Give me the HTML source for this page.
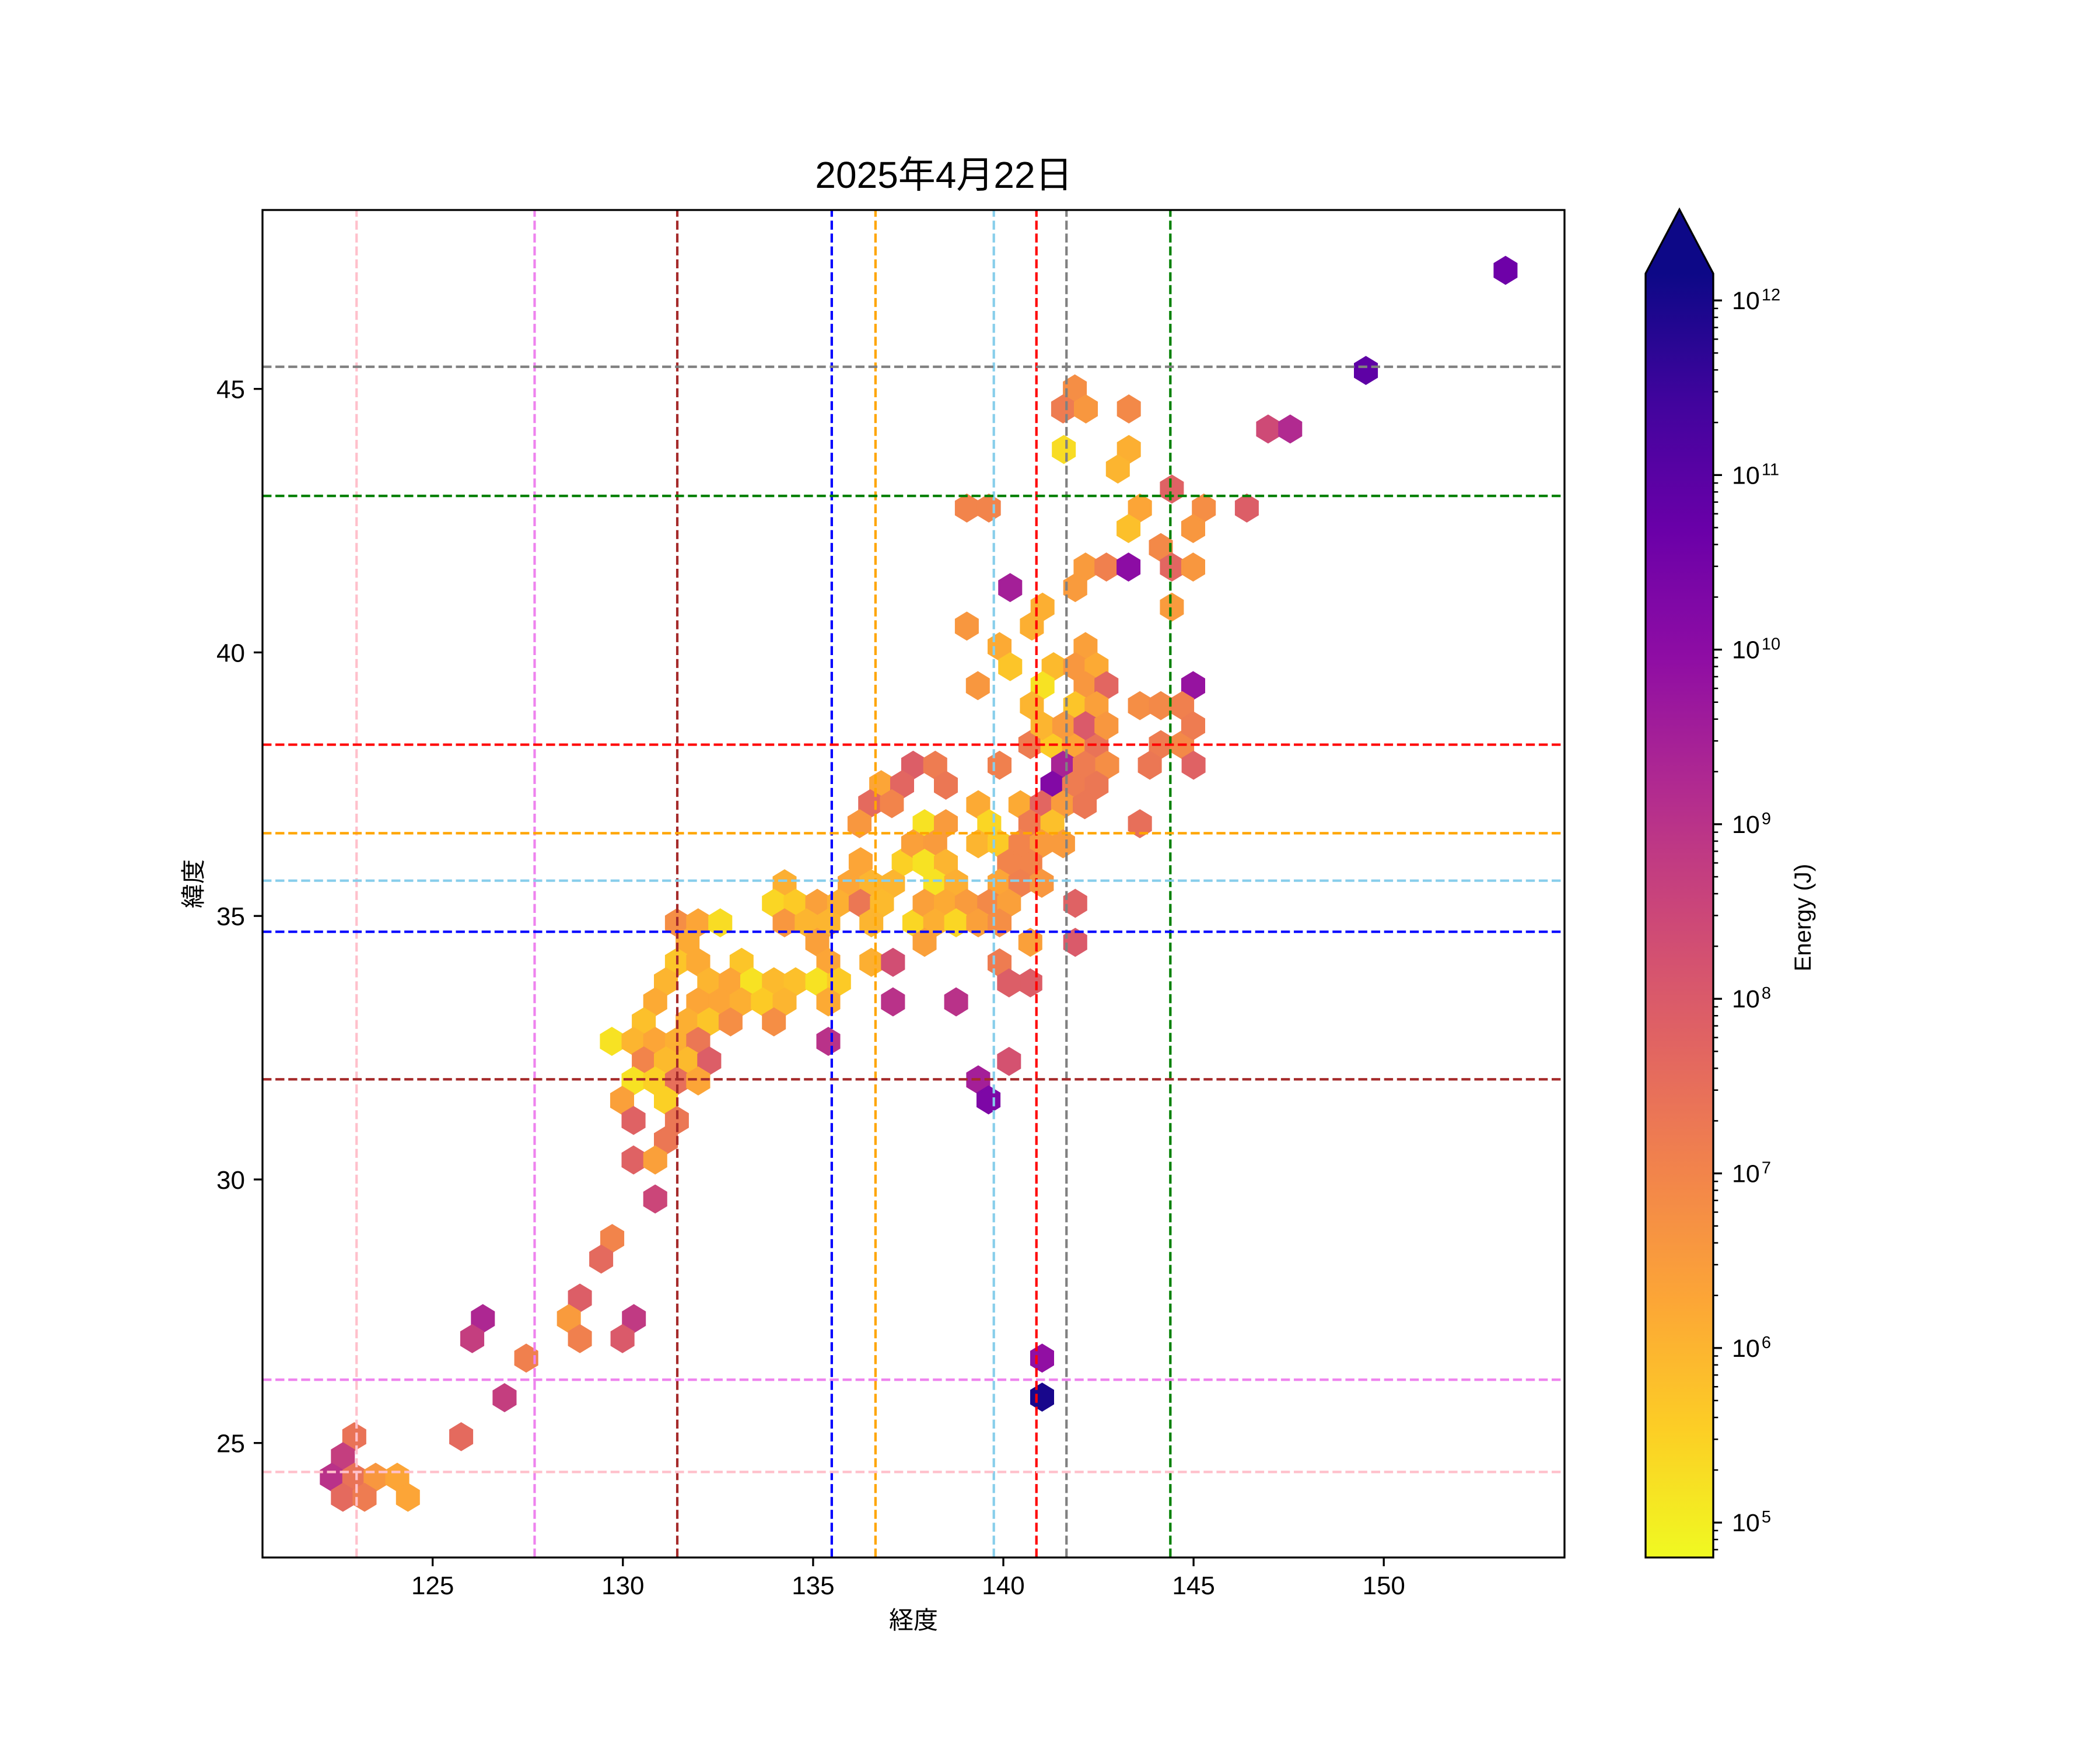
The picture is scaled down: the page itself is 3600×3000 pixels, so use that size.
<!DOCTYPE html>
<html><head><meta charset="utf-8"><style>
html,body{margin:0;padding:0;background:#fff;}
svg{display:block;}
text{font-family:"Liberation Sans","Noto Sans CJK JP",sans-serif;fill:#000;}
</style></head><body>
<svg id="fig" xmlns="http://www.w3.org/2000/svg" width="3600" height="3000" viewBox="0 0 3600 3000">
<rect x="0" y="0" width="3600" height="3000" fill="#fff"/>
<defs>
<clipPath id="axclip"><rect x="450" y="360" width="2232" height="2310"/></clipPath>
<linearGradient id="cbgrad" x1="0" y1="1" x2="0" y2="0"></linearGradient>
</defs>
<text x="1618" y="322" font-size="64" text-anchor="middle">2025年4月22日</text>
<g id="hexes" clip-path="url(#axclip)"></g>
<g id="reflines" clip-path="url(#axclip)"></g>
<rect x="450" y="360" width="2232" height="2310" fill="none" stroke="#000" stroke-width="3.3"/>
<g id="xticks"></g>
<g id="yticks"></g>
<text x="1566" y="2792" font-size="42" text-anchor="middle">経度</text>
<text transform="translate(346,1515) rotate(-90)" font-size="42" text-anchor="middle">緯度</text>
<g id="colorbar"></g>
<text transform="translate(3104,1573) rotate(-90)" font-size="40" text-anchor="middle">Energy (J)</text>
</svg>
<script>
// ---- data (hex-bin centres: longitude, latitude, log10 energy) ----
const lon = [
136.25,137.38,
134.25,135.96,136.53,137.10,
133.97,134.54,135.11,135.68,136.25,136.81,
131.42,131.98,132.56,134.25,134.83,135.40,136.53,137.66,
131.70,135.11,
131.42,131.98,133.12,135.40,136.53,137.10,
131.13,132.27,132.83,133.40,133.97,134.54,135.11,135.68,
130.85,131.98,132.56,133.12,133.68,134.25,135.40,137.10,
130.55,131.70,132.27,132.83,133.97,
129.71,130.28,130.85,131.42,131.98,135.40,
130.55,131.13,131.70,132.27,
130.28,130.85,131.42,131.98,
129.98,131.13,
130.28,131.42,
131.13,
130.28,130.85,
130.85,
140.71,141.29,141.86,142.45,144.14,144.70,
137.63,138.21,139.90,141.57,142.14,142.73,143.85,145.00,
138.49,141.29,141.86,142.45,
139.34,140.45,141.01,141.57,142.14,
137.93,138.49,139.63,140.71,141.29,143.59,
137.63,138.21,139.34,139.90,140.45,141.01,141.57,
137.93,138.49,140.15,140.71,
138.21,138.76,139.90,140.45,141.01,
137.93,138.49,139.04,139.63,140.15,141.89,
138.21,138.76,139.34,139.90,
137.93,140.71,141.89,
139.90,
140.15,140.71,
138.76,
140.15,
139.34,
139.61,
139.04,139.62,
142.16,142.71,
140.18,141.89,
141.03,
139.04,140.75,
139.90,142.16,
140.18,141.32,141.89,142.45,
139.33,141.03,142.16,142.71,
140.75,141.89,142.45,
141.03,141.60,142.16,142.71,
136.79,137.34,
136.50,137.07,
136.22,
144.43,
143.59,145.27,146.40,
143.29,144.99,
144.14,
143.29,144.43,144.99,
144.43,
144.99,
143.59,144.14,144.70,
144.99,
141.88,141.57,142.17,143.30,146.96,147.54,149.53,141.59,143.30,143.01,153.20,
129.72,129.43,128.87,128.58,128.87,130.29,129.99,126.32,126.04,127.46,126.89,125.75,
122.94,122.64,122.35,122.94,123.50,124.07,122.64,123.21,124.35,
141.02,141.02
];
const lat = [
36.03,36.03,
35.61,35.61,35.61,35.61,
35.24,35.24,35.24,35.24,35.24,35.24,
34.87,34.87,34.87,34.87,34.87,34.87,34.87,34.87,
34.50,34.50,
34.12,34.12,34.12,34.12,34.12,34.12,
33.75,33.75,33.75,33.75,33.75,33.75,33.75,33.75,
33.37,33.37,33.37,33.37,33.37,33.37,33.37,33.37,
32.99,32.99,32.99,32.99,32.99,
32.62,32.62,32.62,32.62,32.62,32.62,
32.25,32.25,32.25,32.25,
31.87,31.87,31.87,31.87,
31.50,31.50,
31.12,31.12,
30.74,
30.37,30.37,
29.63,
38.25,38.25,38.25,38.25,38.25,38.25,
37.86,37.86,37.86,37.86,37.86,37.86,37.86,37.86,
37.48,37.48,37.48,37.48,
37.11,37.11,37.11,37.11,37.11,
36.75,36.75,36.75,36.75,36.75,36.75,
36.37,36.37,36.37,36.37,36.37,36.37,36.37,
36.00,36.00,36.00,36.00,
35.62,35.62,35.62,35.62,35.62,
35.24,35.24,35.24,35.24,35.24,35.24,
34.87,34.87,34.87,34.87,
34.50,34.50,34.50,
34.11,
33.73,33.73,
33.37,
32.24,
31.89,
31.51,
42.74,42.74,
41.62,41.62,
41.23,41.23,
40.86,
40.50,40.50,
40.11,40.11,
39.73,39.73,39.73,39.73,
39.37,39.37,39.37,39.37,
38.99,38.99,38.99,
38.61,38.61,38.61,38.61,
37.49,37.49,
37.13,37.13,
36.75,
43.10,
42.74,42.74,42.74,
42.35,42.35,
41.99,
41.62,41.62,41.62,
40.86,
39.37,
38.99,38.99,38.99,
38.61,
45.00,44.62,44.62,44.62,44.24,44.24,45.35,43.85,43.85,43.48,47.25,
28.88,28.49,27.75,27.36,26.98,27.36,26.98,27.36,26.98,26.61,25.86,25.12,
25.12,24.74,24.35,24.35,24.35,24.35,23.97,23.97,23.97,
26.61,25.87
];
const logE = [
6.3,5.5,
6.1,6.3,6.0,6.0,
5.4,5.6,6.4,6.1,7.3,5.9,
6.8,6.3,5.3,6.6,6.0,6.0,6.0,5.4,
6.2,6.4,
5.7,6.2,5.7,6.3,6.1,8.3,
6.0,6.0,6.3,5.2,5.9,5.8,5.2,5.6,
6.2,6.3,6.3,6.1,5.6,6.0,6.2,9.0,
5.8,6.1,5.7,6.8,6.8,
5.2,6.0,6.3,6.1,7.3,9.0,
7.0,5.9,5.9,7.9,
5.2,5.5,7.5,6.3,
6.4,5.5,
7.8,7.3,
7.3,
7.8,6.4,
8.5,
7.2,5.6,6.3,7.4,7.2,6.9,
7.9,7.2,7.1,9.4,7.2,6.8,7.3,7.8,
7.3,10.2,7.2,7.3,
6.2,6.2,7.7,6.5,7.3,
5.2,6.5,5.4,7.2,5.8,7.5,
6.4,6.5,6.0,5.6,7.0,6.5,6.5,
5.2,6.0,7.0,7.0,
5.2,6.1,6.3,7.1,6.6,
6.4,6.2,6.5,6.9,6.4,7.8,
6.1,5.4,6.4,6.8,
6.4,6.4,8.0,
7.2,
7.9,7.9,
9.0,
8.2,
9.5,
10.3,
7.0,7.0,
6.5,7.1,
9.5,6.5,
6.1,
6.6,6.1,
6.2,6.4,
5.7,5.9,6.6,6.2,
6.6,5.2,6.6,7.7,
6.0,5.7,6.4,
6.0,6.5,8.0,6.6,
6.3,7.7,
7.6,7.0,
6.6,
7.8,
6.3,6.8,7.9,
5.8,6.6,
6.9,
10.0,7.7,6.6,
6.5,
9.8,
6.8,6.9,7.1,
7.2,
6.8,7.2,6.6,6.9,8.4,9.2,10.9,5.3,6.1,6.0,10.6,
7.0,7.6,7.9,6.5,7.1,8.8,8.0,9.3,8.7,7.1,8.7,7.6,
7.4,8.7,9.0,7.4,6.6,6.3,7.6,7.2,6.3,
9.9,12.0
];
// reference lines
const vLineLon = [123.0, 127.68, 131.43, 135.49, 136.64, 139.75, 140.87, 141.66, 144.39];
const vLineColor = ["pink","violet","brown","blue","orange","skyblue","red","grey","green"];
const hLineLat = [24.45, 26.2, 31.90, 34.70, 36.57, 35.67, 38.25, 45.42, 42.97];
const hLineColor = ["pink","violet","brown","blue","orange","skyblue","red","grey","green"];
// ticks
const xTickVals = [125,130,135,140,145,150];
const yTickVals = [25,30,35,40,45];
const cbTickExp = [5,6,7,8,9,10,11,12];

// ---- axes ----
const X0 = 741.7, XPD = 65.22, Y0 = 666.7, YPD = 90.35;
function xs(v){ return X0 + (v - 125) * XPD; }
function ys(v){ return Y0 + (45 - v) * YPD; }
const VMIN = 4.80, VMAX = 12.154;
const CB_BOTTOM = 2670, CB_DEC = 299.3;
function cbY(lg){ return CB_BOTTOM - (lg - VMIN) * CB_DEC; }

const plasma = [[13,8,135],[65,4,157],[106,0,168],[143,13,164],[177,42,144],[204,71,120],[225,100,98],[242,132,75],[252,166,54],[252,206,37],[240,249,33]];
function plasmaAt(t){
  t = Math.max(0, Math.min(1, t));
  const f = t * 10, i = Math.min(9, Math.floor(f)), r = f - i;
  const a = plasma[i], b = plasma[i+1];
  return 'rgb(' + [0,1,2].map(k => Math.round(a[k] + (b[k]-a[k]) * r)).join(',') + ')';
}
function colorFor(lg){ return plasmaAt(1 - (lg - VMIN) / (VMAX - VMIN)); }

const NS = 'http://www.w3.org/2000/svg';
function mk(tag, attrs, parent){
  const e = document.createElementNS(NS, tag);
  for (const k in attrs) e.setAttribute(k, attrs[k]);
  parent.appendChild(e);
  return e;
}

// ---- hexes ----
const hexG = document.getElementById('hexes');
const HW = 0.568 * XPD / 2, HH = 0.75 * YPD / 3;
for (let i = 0; i < lon.length; i++) {
  const cx = xs(lon[i]), cy = ys(lat[i]);
  const pts = [[0,-HH],[HW,-HH/2],[HW,HH/2],[0,HH],[-HW,HH/2],[-HW,-HH/2]].map(p => (cx+p[0]).toFixed(1)+','+(cy+p[1]).toFixed(1)).join(' ');
  const c = colorFor(logE[i]);
  const h = mk('polygon', {points: pts, fill: c, stroke: c, 'stroke-width': 4}, hexG);
  
  
}

// ---- reference lines ----
const refG = document.getElementById('reflines');
for (let i = 0; i < vLineLon.length; i++) {
  const x = xs(vLineLon[i]);
  const l = mk('line', {x1: x, y1: 2670, x2: x, y2: 360, stroke: vLineColor[i], 'stroke-width': 4.2, 'stroke-dasharray': '15.4 6.7'}, refG);
  
  
}
for (let i = 0; i < hLineLat.length; i++) {
  const y = ys(hLineLat[i]);
  const l = mk('line', {x1: 450, y1: y, x2: 2682, y2: y, stroke: hLineColor[i], 'stroke-width': 4.2, 'stroke-dasharray': '15.4 6.7'}, refG);
  
  
}

// ---- axis ticks ----
const xg = document.getElementById('xticks');
xTickVals.forEach(v => {
  const x = xs(v);
  const t = mk('line', {x1: x, y1: 2670, x2: x, y2: 2685, stroke: '#000', 'stroke-width': 3.3}, xg);
  
  
  const lb = mk('text', {x: x, y: 2733, 'font-size': 44, 'text-anchor': 'middle'}, xg);
  lb.textContent = String(v);
  
  
});
const yg = document.getElementById('yticks');
yTickVals.forEach(v => {
  const y = ys(v);
  const t = mk('line', {x1: 435, y1: y, x2: 450, y2: y, stroke: '#000', 'stroke-width': 3.3}, yg);
  
  
  const lb = mk('text', {x: 420, y: y + 16, 'font-size': 44, 'text-anchor': 'end'}, yg);
  lb.textContent = String(v);
  
  
});

// ---- colorbar ----
const grad = document.getElementById('cbgrad');
for (let s = 0; s <= 20; s++) {
  const t = s / 20;
  mk('stop', {offset: t, 'stop-color': plasmaAt(1 - t)}, grad);
}
const cb = document.getElementById('colorbar');
const CBL = 2821, CBR = 2937, CBTOP = cbY(VMAX);
const body = mk('rect', {x: CBL, y: CBTOP, width: CBR - CBL, height: CB_BOTTOM - CBTOP, fill: 'url(#cbgrad)'}, cb);


const tri = mk('polygon', {points: CBL+','+CBTOP+' '+((CBL+CBR)/2)+',359 '+CBR+','+CBTOP, fill: plasmaAt(0)}, cb);


const outline = mk('polygon', {points: CBL+','+CB_BOTTOM+' '+CBL+','+CBTOP+' '+((CBL+CBR)/2)+',359 '+CBR+','+CBTOP+' '+CBR+','+CB_BOTTOM, fill: 'none', stroke: '#000', 'stroke-width': 3.3}, cb);


for (let k = 4; k <= 12; k++) {
  for (let m = 2; m <= 9; m++) {
    const lg = k + Math.log10(m);
    if (lg < VMIN || lg > VMAX) continue;
    const y = cbY(lg);
    const mt = mk('line', {x1: CBR, y1: y, x2: CBR + 8.3, y2: y, stroke: '#000', 'stroke-width': 2.5}, cb);
    
    
  }
}
cbTickExp.forEach(e => {
  const y = cbY(e);
  const t = mk('line', {x1: CBR, y1: y, x2: CBR + 15, y2: y, stroke: '#000', 'stroke-width': 3.3}, cb);
  
  
  const lb = mk('text', {x: 2969, y: y + 15, 'font-size': 43}, cb);
  
  
  const base = document.createElementNS(NS, 'tspan');
  base.textContent = '10';
  lb.appendChild(base);
  const sup = document.createElementNS(NS, 'tspan');
  sup.setAttribute('font-size', '29');
  sup.setAttribute('dy', '-15');
  sup.setAttribute('dx', '3');
  sup.textContent = String(e);
  lb.appendChild(sup);
});
</script>
</body></html>
